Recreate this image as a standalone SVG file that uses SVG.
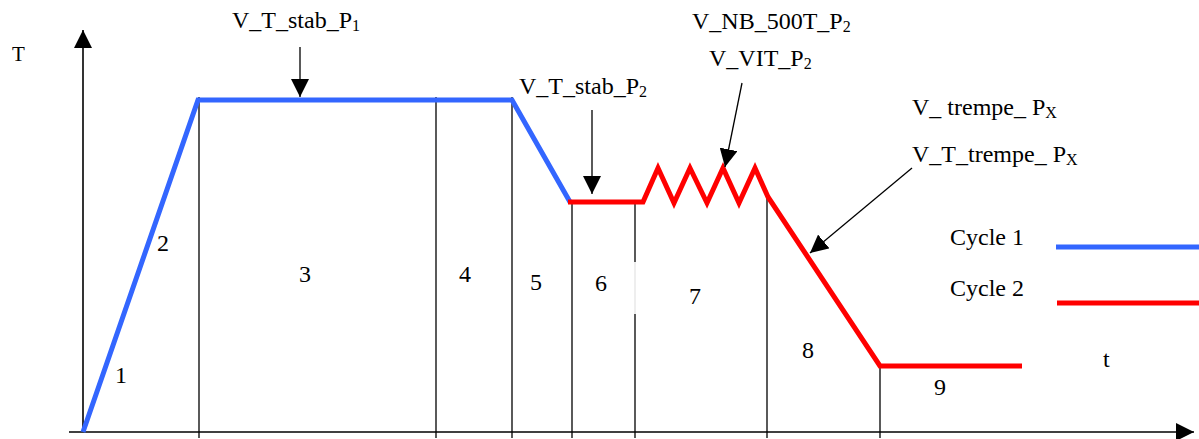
<svg xmlns="http://www.w3.org/2000/svg" width="1199" height="439" viewBox="0 0 1199 439">
<style>
text{font-family:"Liberation Serif","Times New Roman",serif;font-size:24px;fill:#000}
.sub{font-size:16px}
.ax{stroke:#000;stroke-width:1.6;fill:none}
.thin{stroke:#000;stroke-width:1.3;fill:none}
.blue{stroke:#3366ff;stroke-width:5;fill:none;stroke-linejoin:miter}
.red{stroke:#ff0000;stroke-width:5;fill:none;stroke-linejoin:miter}
</style>
<defs>
<marker id="ah" markerUnits="userSpaceOnUse" markerWidth="18" markerHeight="18" refX="18" refY="9" orient="auto" viewBox="0 0 18 18">
<path d="M0,0 L18,9 L0,18 z" fill="#000"/>
</marker>
</defs>
<rect width="1199" height="439" fill="#fff"/>
<g id="axes">
<line class="ax" x1="83" y1="432" x2="83" y2="30" marker-end="url(#ah)"/>
<line class="ax" x1="69" y1="432" x2="1194" y2="432" marker-end="url(#ah)"/>
<text x="12" y="61" style="font-size:21px">T</text>
<text x="1103" y="367">t</text>
</g>
<g id="dividers">
<line class="thin" x1="199" y1="97" x2="199" y2="438"/>
<line class="thin" x1="436" y1="97" x2="436" y2="438"/>
<line class="thin" x1="512" y1="97" x2="512" y2="438"/>
<line class="thin" x1="572" y1="202" x2="572" y2="438"/>
<line class="thin" x1="635" y1="202" x2="635" y2="262"/>
<line class="thin" x1="635" y1="314" x2="635" y2="438"/>
<line x1="635" y1="262" x2="635" y2="314" stroke="#ddd" stroke-width="1"/>
<line class="thin" x1="767" y1="197" x2="767" y2="438"/>
<line class="thin" x1="880" y1="366" x2="880" y2="438"/>
</g>
<g id="cycle1">
<polyline class="blue" points="83,432 198,100 512,100 570,202"/>
</g>
<g id="cycle2">
<polyline class="red" points="568,202 643,202 658,168 674,203 690,168 707,203 723,168 739,203 755,168 768,197 880,366 1022,366"/>
</g>
<g id="phases">
<text x="115" y="383">1</text>
<text x="157" y="251">2</text>
<text x="299" y="282">3</text>
<text x="459" y="282">4</text>
<text x="530" y="290">5</text>
<text x="595" y="291">6</text>
<text x="689" y="304">7</text>
<text x="802" y="358">8</text>
<text x="934" y="395">9</text>
</g>
<g id="connectors">
<line class="thin" x1="300" y1="47" x2="300" y2="97" marker-end="url(#ah)"/>
<line class="thin" x1="592" y1="110" x2="592" y2="194" marker-end="url(#ah)"/>
<line class="thin" x1="742" y1="83" x2="725" y2="167" marker-end="url(#ah)"/>
<line class="thin" x1="912" y1="168" x2="810" y2="253" marker-end="url(#ah)"/>
</g>
<g id="label-stab1">
<text x="232" y="28">V_T_stab_P<tspan class="sub" dy="3">1</tspan></text>
</g>
<g id="label-stab2">
<text x="519" y="94">V_T_stab_P<tspan class="sub" dy="3">2</tspan></text>
</g>
<g id="label-nb">
<text x="692" y="29">V_NB_500T_P<tspan class="sub" dy="3">2</tspan></text>
<text x="709" y="66">V_VIT_P<tspan class="sub" dy="3">2</tspan></text>
</g>
<g id="label-trempe">
<text x="912" y="115" xml:space="preserve">V_ trempe_ P<tspan class="sub" dy="3">X</tspan></text>
<text x="912" y="162" xml:space="preserve">V_T_trempe_ P<tspan class="sub" dy="3">X</tspan></text>
</g>
<g id="legend">
<text x="950" y="245">Cycle 1</text>
<line class="blue" x1="1056" y1="247" x2="1199" y2="247"/>
<text x="950" y="296">Cycle 2</text>
<line class="red" x1="1057" y1="303" x2="1199" y2="303"/>
</g>
</svg>
